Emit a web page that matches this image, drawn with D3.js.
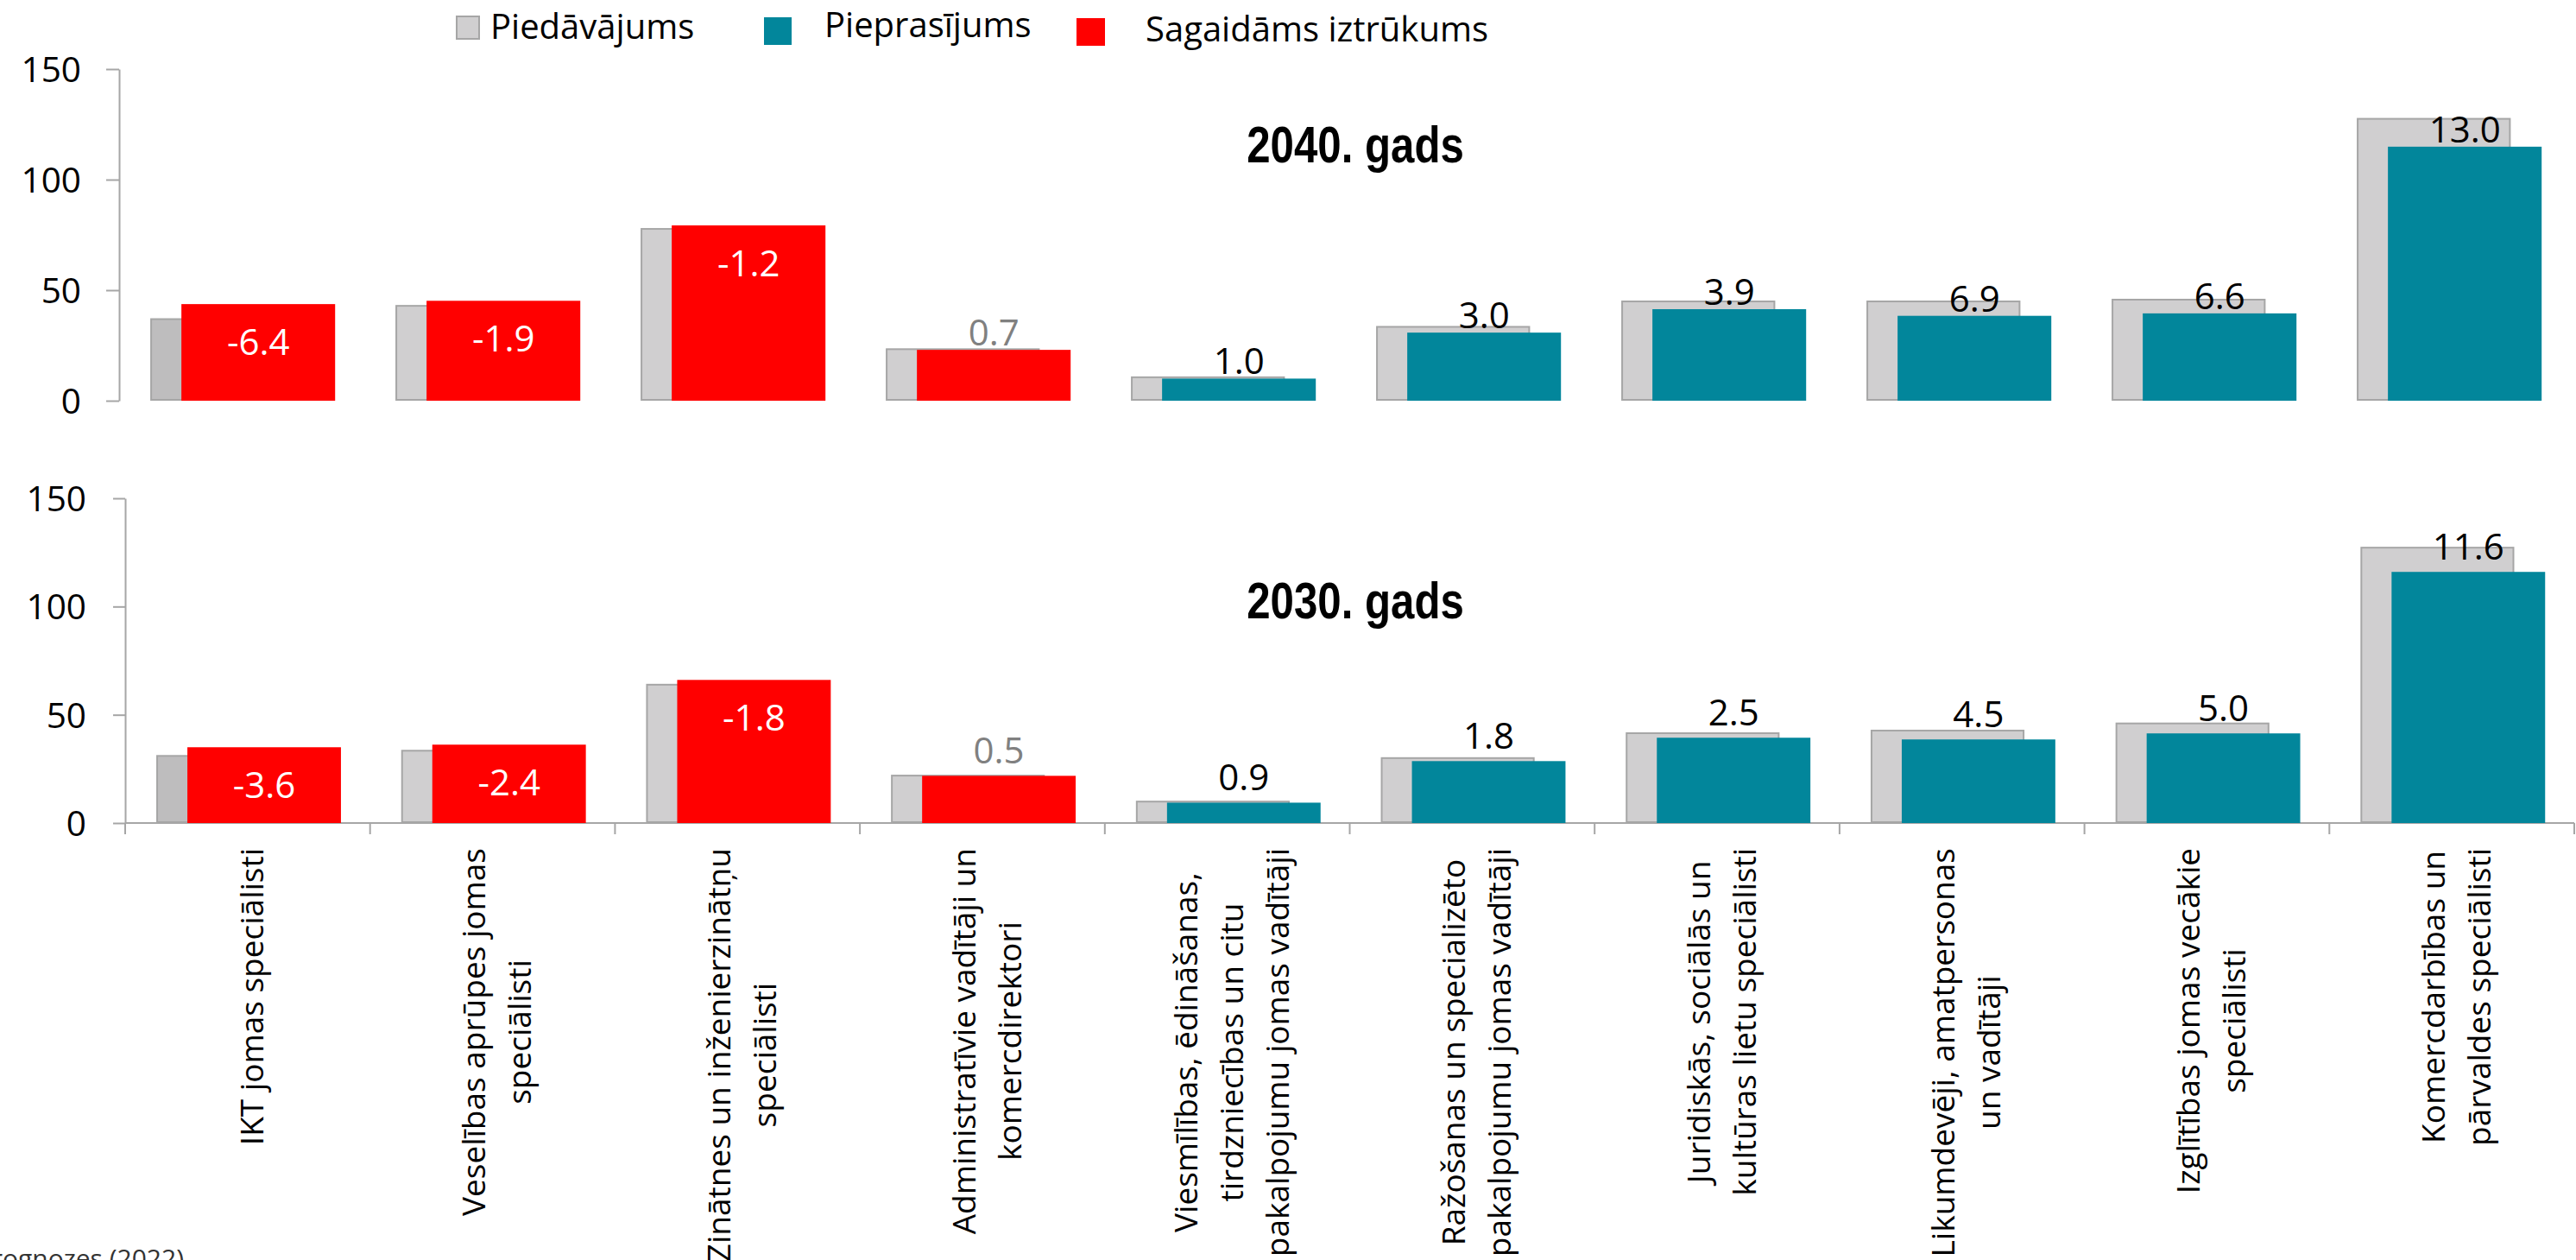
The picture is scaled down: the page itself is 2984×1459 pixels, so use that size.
<!DOCTYPE html>
<html>
<head>
<meta charset="utf-8">
<script src="https://cdn.jsdelivr.net/npm/d3@7"></script>
<style>
  html, body { margin: 0; padding: 0; background: #ffffff; overflow: hidden; }
</style>
</head>
<body>
<svg id="chart" width="2984" height="1459"></svg>
<script>
// ---------------- DATA ----------------
const categories = [
  ["IKT jomas speciālisti"],
  ["Veselības aprūpes jomas", "speciālisti"],
  ["Zinātnes un inženierzinātņu", "speciālisti"],
  ["Administratīvie vadītāji un", "komercdirektori"],
  ["Viesmīlības, ēdināšanas,", "tirdzniecības un citu", "pakalpojumu jomas vadītāji"],
  ["Ražošanas un specializēto", "pakalpojumu jomas vadītāji"],
  ["Juridiskās, sociālās un", "kultūras lietu speciālisti"],
  ["Likumdevēji, amatpersonas", "un vadītāji"],
  ["Izglītības jomas vecākie", "speciālisti"],
  ["Komercdarbības un", "pārvaldes speciālisti"]
];

// 2040
const supply2040 = [37.3, 43.3, 78.1, 23.7, 11.0, 33.8, 45.3, 45.3, 46.1, 127.9];
const demand2040 = [43.7, 45.2, 79.3, 23.0, 10.0, 30.8, 41.4, 38.4, 39.5, 114.9];
const gap2040    = [-6.4, -1.9, -1.2, 0.7, 1.0, 3.0, 3.9, 6.9, 6.6, 13.0];

// 2030
const supply2030 = [31.4, 33.8, 64.3, 22.3, 10.3, 30.4, 41.9, 43.1, 46.4, 127.6];
const demand2030 = [35.0, 36.2, 66.1, 21.8, 9.4, 28.6, 39.4, 38.6, 41.4, 116.0];
const gap2030    = [-3.6, -2.4, -1.8, 0.5, 0.9, 1.8, 2.5, 4.5, 5.0, 11.6];

// categories in the "expected shortage" group
const shortage = [true, true, true, true, false, false, false, false, false, false];

const yTicks = [0, 50, 100, 150];
const legendLabels = ["Piedāvājums", "Pieprasījums", "Sagaidāms iztrūkums"];
const panelTitles = ["2040. gads", "2030. gads"];
const sourceText = "Avots: EM darba tirgus prognozes (2022)";

// ---------------- STYLE ----------------
const C = {
  supply: "#d0cfd0",
  supplyFirst: "#bebdbe",
  supplyStroke: "#a6a6a6",
  demand: "#02869b",
  short: "#ff0000",
  axis: "#a6a6a6",
  muted: "#808080",
  text: "#000000"
};
const FONT = "'Open Sans', 'Noto Sans', sans-serif";
const TITLE_FONT = "'Liberation Sans Narrow', 'Arial Narrow', 'Liberation Sans', Arial, sans-serif";
const WIDE_FONT = "'Liberation Sans', Arial, sans-serif";
const fmt = d3.formatLocale({decimal: ".", thousands: ",", grouping: [3], currency: ["", ""], minus: "-"}).format(".1f");

const svg = d3.select("#chart");
svg.append("rect").attr("width", 2984).attr("height", 1459).attr("fill", "#ffffff");

const panels = [
  {title: panelTitles[0], supply: supply2040, demand: demand2040, gap: gap2040,
   x0: 138, x1: 2978, yTop: 80, yBottom: 464, titleY: 188, aboveOffset: 5,
   xAxisLine: false, tickSize: 15, tickPad: 29},
  {title: panelTitles[1], supply: supply2030, demand: demand2030, gap: gap2030,
   x0: 145, x1: 2982, yTop: 577, yBottom: 953, titleY: 716, aboveOffset: 14,
   xAxisLine: true, tickSize: 14, tickPad: 31}
];

// detect narrow font availability for titles (same family stacks as used for drawing)
function measure(family, weight, size, str) {
  const t = svg.append("text").attr("font-family", family).attr("font-weight", weight)
    .attr("font-size", size).text(str);
  const w = t.node().getComputedTextLength();
  t.remove();
  return w;
}
const wNarrow = measure(TITLE_FONT, "bold", 60, panelTitles[0]);
const wWide = measure(WIDE_FONT, "bold", 60, panelTitles[0]);
const needSqueeze = wNarrow > wWide * 0.95;

let bottomX = null;

panels.forEach((p, pi) => {
  const n = categories.length;
  const x = d3.scaleBand().domain(d3.range(n)).range([p.x0, p.x1]).paddingInner(0).paddingOuter(0);
  const y = d3.scaleLinear().domain([0, 150]).range([p.yBottom, p.yTop]);
  const bw = x.bandwidth();
  if (pi === 1) bottomX = x;

  const g = svg.append("g").attr("class", "panel");

  // Y axis
  const ax = d3.axisLeft(y).tickValues(yTicks).tickSize(p.tickSize).tickSizeOuter(0)
    .tickPadding(p.tickPad).tickFormat(d3.format("d"));
  const axG = g.append("g").attr("transform", `translate(${p.x0},0)`).call(ax);
  axG.attr("font-size", null).attr("font-family", null);
  axG.select(".domain").attr("stroke", C.axis).attr("stroke-width", 2);
  axG.selectAll(".tick line").attr("stroke", C.axis).attr("stroke-width", 2);
  axG.selectAll(".tick text").attr("font-family", FONT).attr("font-size", 40.5)
    .attr("fill", C.text).attr("dy", "0.36em");

  // X axis line (bottom panel only)
  if (p.xAxisLine) {
    g.append("line").attr("x1", p.x0).attr("x2", p.x1).attr("y1", y(0)).attr("y2", y(0))
      .attr("stroke", C.axis).attr("stroke-width", 2);
    const tickXs = d3.range(n).map(i => x(i)).concat([p.x1]);
    g.selectAll("line.xtick").data(tickXs).join("line").attr("class", "xtick")
      .attr("x1", d => d).attr("x2", d => d).attr("y1", y(0)).attr("y2", y(0) + 13)
      .attr("stroke", C.axis).attr("stroke-width", 2);
  }

  // supply bars
  g.selectAll("rect.supply").data(p.supply).join("rect").attr("class", "supply")
    .attr("x", (d, i) => x(i) + bw * 0.127 + 1)
    .attr("y", d => y(d) + 1)
    .attr("width", bw * 0.628 - 2)
    .attr("height", d => y(0) - y(d) - 2)
    .attr("fill", (d, i) => i === 0 ? C.supplyFirst : C.supply)
    .attr("stroke", C.supplyStroke).attr("stroke-width", 2);

  // demand bars
  g.selectAll("rect.demand").data(p.demand).join("rect").attr("class", "demand")
    .attr("x", (d, i) => x(i) + bw * 0.254)
    .attr("y", d => y(d))
    .attr("width", bw * 0.627)
    .attr("height", d => y(0) - y(d))
    .attr("fill", (d, i) => shortage[i] ? C.short : C.demand);

  // value labels (gap)
  g.selectAll("text.val").data(p.gap).join("text").attr("class", "val")
    .attr("x", (d, i) => x(i) + bw * (0.254 + 0.627 / 2))
    .attr("y", (d, i) => d < 0 ? y(p.demand[i]) + 59 : y(p.demand[i]) - p.aboveOffset)
    .attr("text-anchor", "middle")
    .attr("font-family", FONT).attr("font-size", 42)
    .attr("fill", (d, i) => d < 0 ? "#ffffff" : (shortage[i] ? C.muted : C.text))
    .text(d => fmt(d));

  // panel title
  const t = g.append("text")
    .attr("text-anchor", "middle")
    .attr("font-family", TITLE_FONT)
    .attr("font-weight", "bold").attr("font-size", 60).attr("fill", C.text)
    .text(p.title);
  t.attr("transform", needSqueeze
    ? `translate(1570,${p.titleY}) scale(0.82,1)`
    : `translate(1570,${p.titleY})`);
});

// ---------------- Category labels (rotated) ----------------
const lineStep = 53;
const labelFont = 37;
const capHalf = 0.357 * labelFont;
const labelTop = 982;
const bw2 = bottomX.bandwidth();
categories.forEach((lines, i) => {
  const cx = bottomX(i) + bw2 / 2 + 5;
  const texts = lines.map(s => svg.append("text")
    .attr("font-family", FONT).attr("font-size", labelFont).attr("fill", C.text)
    .attr("text-anchor", "middle").text(s));
  const maxLen = d3.max(texts, t => t.node().getComputedTextLength());
  const yc = labelTop + maxLen / 2;
  const m = lines.length;
  texts.forEach((t, j) => {
    const bx = cx + (j - (m - 1) / 2) * lineStep + capHalf;
    t.attr("transform", `translate(${bx},${yc}) rotate(-90)`);
  });
});

// ---------------- Legend ----------------
const lg = svg.append("g").attr("class", "legend");
lg.append("rect").attr("x", 529).attr("y", 19).attr("width", 26).attr("height", 26)
  .attr("fill", C.supply).attr("stroke", C.supplyStroke).attr("stroke-width", 2);
lg.append("text").attr("x", 568).attr("y", 45).attr("font-family", FONT).attr("font-size", 40)
  .attr("fill", C.text).text(legendLabels[0]);
lg.append("rect").attr("x", 885).attr("y", 20).attr("width", 32).attr("height", 32).attr("fill", C.demand);
lg.append("text").attr("x", 955).attr("y", 43).attr("font-family", FONT).attr("font-size", 40)
  .attr("fill", C.text).text(legendLabels[1]);
lg.append("rect").attr("x", 1247).attr("y", 21).attr("width", 33).attr("height", 32).attr("fill", C.short);
lg.append("text").attr("x", 1327).attr("y", 48).attr("font-family", FONT).attr("font-size", 40)
  .attr("fill", C.text).text(legendLabels[2]);

// ---------------- Source ----------------
svg.append("text").attr("x", 213).attr("y", 1468).attr("text-anchor", "end")
  .attr("font-family", FONT).attr("font-size", 30).attr("fill", "#333333").text(sourceText);
</script>
</body>
</html>
